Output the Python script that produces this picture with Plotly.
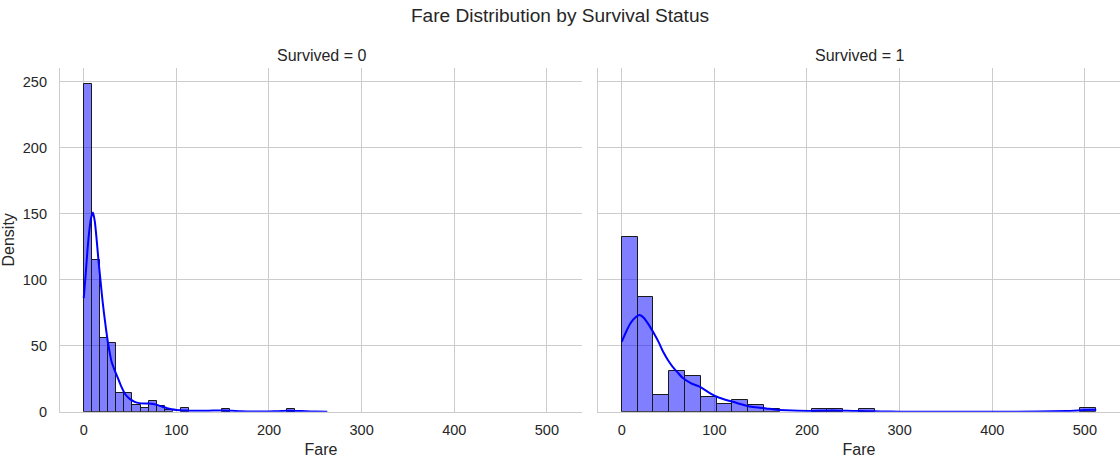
import numpy as np
import plotly.graph_objects as go

# ---------------- data ----------------
n_bins = 30
fare_max_0 = 263.0        # Survived = 0 : histogram range 0 .. max fare
fare_max_1 = 512.3292     # Survived = 1
counts_0 = [248, 115, 56, 52, 14, 14, 5, 3, 8, 4, 1, 0, 3, 0, 0,
            0, 0, 2, 0, 0, 0, 0, 0, 0, 0, 2, 0, 0, 0, 0]
counts_1 = [132, 87, 13, 31, 27, 11, 6, 9, 5, 2, 0, 0, 2, 2, 0,
            2, 0, 0, 0, 0, 0, 0, 0, 0, 0, 0, 0, 0, 0, 3]

kde_x_0 = [0, 2, 4, 6, 8, 10, 12, 14, 16, 18, 20, 22, 24, 26, 28, 30, 33, 36, 40,
           45, 50, 55, 60, 65, 70, 75, 80, 85, 90, 95, 100, 110, 120, 130, 140,
           150, 160, 170, 180, 190, 200, 210, 220, 230, 240, 250, 263]
kde_y_0 = [86, 103, 122, 137, 147, 151, 144, 130, 114, 100, 86, 74, 63, 53, 45,
           38, 32, 27, 20, 13, 9.5, 7.5, 6.5, 6.2, 6.2, 5.8, 5.0, 3.8, 2.6, 1.8,
           1.3, 0.9, 0.7, 0.7, 0.9, 1.0, 0.7, 0.3, 0.15, 0.1, 0.2, 0.4, 0.7,
           0.6, 0.3, 0.1, 0.05]

kde_x_1 = [0, 5, 10, 15, 19, 24, 30, 35, 40, 45, 50, 55, 60, 66, 75, 84, 93,
           102, 111, 120, 130, 138, 147, 156, 165, 177, 190, 205, 220, 235, 250,
           265, 280, 300, 350, 400, 450, 480, 500, 512.3292]
kde_y_1 = [53, 61, 67.6, 71.5, 73.2, 71, 65, 59, 52.5, 45, 39, 34, 30, 25.5,
           21.5, 19, 15, 11.5, 9.3, 7.5, 5.4, 4.0, 3.1, 2.5, 1.7, 1.1, 0.7, 0.6,
           0.8, 0.8, 0.6, 0.4, 0.2, 0.05, 0.01, 0.02, 0.1, 0.5, 1.2, 1.5]

x_ticks = [0, 100, 200, 300, 400, 500]
y_ticks = [0, 50, 100, 150, 200, 250]
panel_titles = ["Survived = 0", "Survived = 1"]
chart_title = "Fare Distribution by Survival Status"

# ---------------- figure ----------------
W, H = 1120, 458
FONT = "Liberation Sans, Arial, sans-serif"
TXT = "#262626"
GRID = "#cccccc"

fig = go.Figure()


def add_panel(counts, fmax, kx, ky, xa, ya):
    edges = np.linspace(0, fmax, n_bins + 1)
    centers = (edges[:-1] + edges[1:]) / 2
    width = edges[1] - edges[0]
    yv = [c if c > 0 else None for c in counts]
    fig.add_trace(go.Bar(
        x=centers, y=yv, width=width, xaxis=xa, yaxis=ya,
        marker=dict(color="rgba(0,0,255,0.5)",
                    line=dict(color="#1a1a1a", width=1)),
        showlegend=False, hoverinfo="x+y"))
    fig.add_trace(go.Scatter(
        x=kx, y=ky, xaxis=xa, yaxis=ya, mode="lines",
        line=dict(color="blue", width=2, shape="spline", smoothing=0.6),
        showlegend=False))


add_panel(counts_0, fare_max_0, kde_x_0, kde_y_0, "x", "y")
add_panel(counts_1, fare_max_1, kde_x_1, kde_y_1, "x2", "y2")

xr = [-0.05 * fare_max_1, 1.05 * fare_max_1]
yr = [0, 1.05 * max(counts_0)]

y_dom = [1 - 411.7 / H, 1 - 68 / H]
x_dom1 = [60 / W, 582 / W]
x_dom2 = [598 / W, 1.0]

common_x = dict(range=xr, tickvals=x_ticks, showgrid=True, gridcolor=GRID,
                gridwidth=1, showline=True, linecolor=GRID, linewidth=1.25,
                zeroline=False, ticks="", automargin=False,
                ticklabelstandoff=5,
                tickfont=dict(family=FONT, size=14.5, color=TXT),
                title=dict(text="Fare", font=dict(family=FONT, size=16, color=TXT),
                           standoff=9))
common_y = dict(range=yr, tickvals=y_ticks, showgrid=True, gridcolor=GRID,
                gridwidth=1, showline=True, linecolor=GRID, linewidth=1.25,
                zeroline=False, ticks="", automargin=False, domain=y_dom,
                tickfont=dict(family=FONT, size=14.5, color=TXT))

fig.update_layout(
    width=W, height=H,
    margin=dict(l=0, r=0, t=0, b=0),
    paper_bgcolor="white", plot_bgcolor="white",
    bargap=0,
    font=dict(family=FONT, color=TXT),
    title=dict(text=chart_title, x=0.5, xanchor="center",
               y=1 - 15 / H, yanchor="middle", yref="container",
               font=dict(family=FONT, size=19.1, color=TXT)),
    xaxis=dict(domain=x_dom1, anchor="y", **common_x),
    xaxis2=dict(domain=x_dom2, anchor="y2", matches="x", **common_x),
    yaxis=dict(anchor="x", ticklabelstandoff=9,
               title=dict(text="Density",
                          font=dict(family=FONT, size=16, color=TXT), standoff=4),
               **common_y),
    yaxis2=dict(anchor="x2", matches="y", showticklabels=False, **common_y),
)

for i, t in enumerate(panel_titles):
    dom = x_dom1 if i == 0 else x_dom2
    fig.add_annotation(text=t, x=(dom[0] + dom[1]) / 2, xref="paper",
                       xanchor="center",
                       y=1 - 55 / H, yref="paper", yanchor="middle",
                       showarrow=False,
                       font=dict(family=FONT, size=16, color=TXT))

fig.write_html("out.html")
